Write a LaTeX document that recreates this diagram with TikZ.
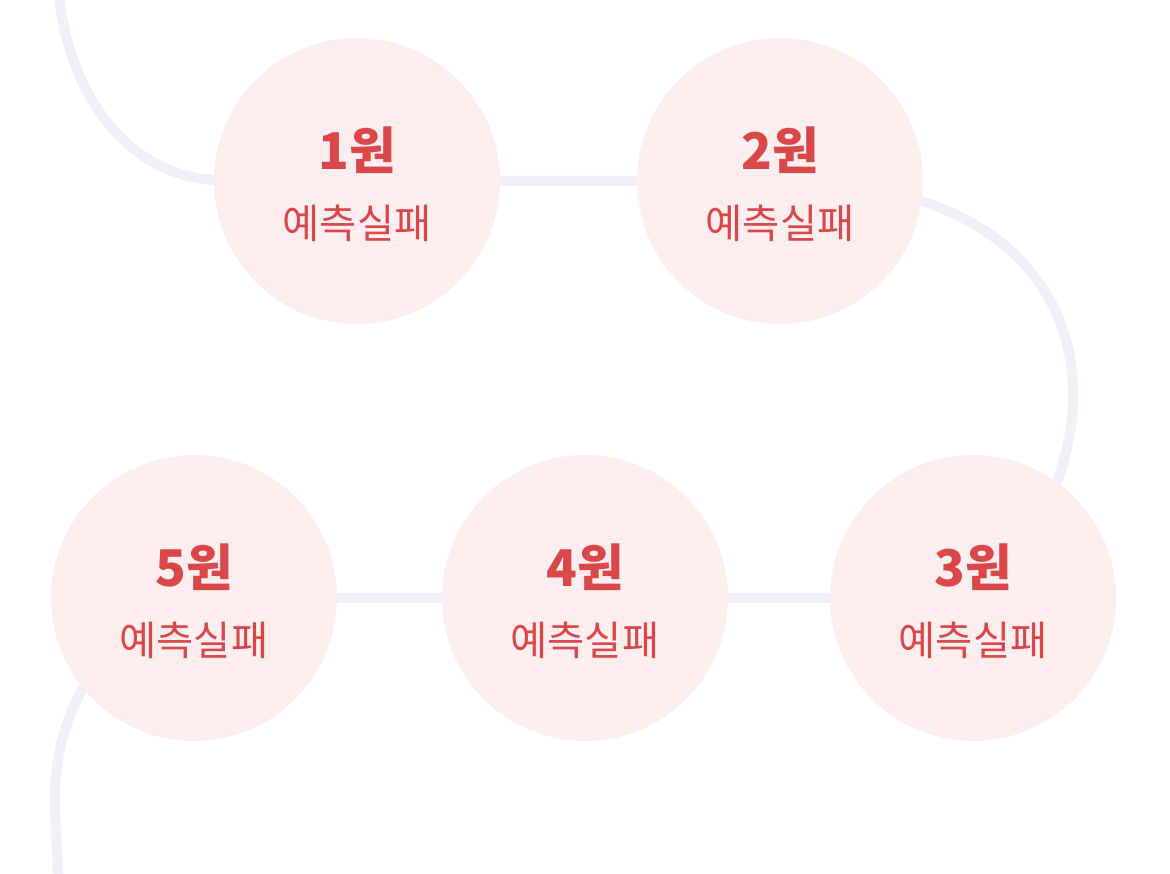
\documentclass[tikz,border=0pt]{standalone}
\usepackage{fontspec}
\setmainfont{Noto Sans CJK KR}
\usetikzlibrary{backgrounds}
\definecolor{pathgrey}{HTML}{EEF0F5}
\definecolor{bubblefill}{HTML}{FCEDEE}
\definecolor{redtext}{HTML}{D9474B}
\begin{document}
\begin{tikzpicture}[x=0.1mm,y=-0.1mm,
  bubble/.style={circle,fill=bubblefill,minimum size=28.6mm,inner sep=0pt},
  amount/.style={font=\fontsize{14.4}{16}\selectfont\bfseries,text=redtext,inner sep=0pt},
  status/.style={font=\fontsize{11.5}{13}\selectfont,text=redtext,inner sep=0pt},
  track/.style={draw=pathgrey,line width=1mm}]
\useasboundingbox (0,0) rectangle (1170,874);
% bubbles
\node[bubble] (c1) at (357,181) {};
\node[bubble] (c2) at (780,181) {};
\node[bubble] (c3) at (973,598) {};
\node[bubble] (c4) at (585,598) {};
\node[bubble] (c5) at (194,598) {};
% labels
\node[amount] (a1) at (357,150) {1원};
\node[status] (s1) at (357,223) {예측실패};
\node[amount] (a2) at (780,150) {2원};
\node[status] (s2) at (780,223) {예측실패};
\node[amount] (a3) at (973,567) {3원};
\node[status] (s3) at (973,640) {예측실패};
\node[amount] (a4) at (585,567) {4원};
\node[status] (s4) at (585,640) {예측실패};
\node[amount] (a5) at (194,567) {5원};
\node[status] (s5) at (194,640) {예측실패};
% free ends
\coordinate (topend) at (57,-40);
\coordinate (botend) at (60,920);
\begin{pgfonlayer}{background}
\fill[white] (0,0) rectangle (1170,874);
\clip (0,0) rectangle (1170,874);
\draw[track] (topend) .. controls (57,80) and (120,175) .. (215,180) -- (c1.center) -- (c2.center)
  .. controls (1140,181) and (1122,480) .. (c3.center) -- (c4.center) -- (c5.center)
  .. controls (90,640) and (52,720) .. (55,810) .. controls (57,850) .. (botend);
\end{pgfonlayer}
\end{tikzpicture}
\end{document}
